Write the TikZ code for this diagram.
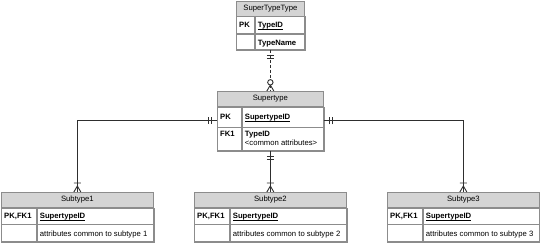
\documentclass[tikz,border=0pt]{standalone}
\usepackage{fontspec}
\setmainfont{Liberation Sans}
\newsavebox{\keybox}
\newcommand{\keyul}[1]{\sbox{\keybox}{#1}\rlap{\rule[-1.4pt]{\wd\keybox}{0.6pt}}\usebox{\keybox}}
\definecolor{hdrgray}{HTML}{D4D4D4}
\definecolor{boxgray}{HTML}{8C8C8C}
\definecolor{linkgray}{HTML}{2E2E2E}
\tikzset{
  cellbox/.style={draw=boxgray, line width=0.7pt, anchor=north west, inner sep=0pt},
  hdrbox/.style={cellbox, fill=hdrgray, font=\fontsize{7.7}{9}\selectfont},
  keytxt/.style={anchor=base west, inner sep=0pt, font=\bfseries\fontsize{7.7}{9}\selectfont},
  attrtxt/.style={anchor=base west, inner sep=0pt, font=\fontsize{7.7}{9}\selectfont},
  link/.style={draw=linkgray, line width=1pt},
  marker/.style={draw=linkgray, line width=0.9pt},
  onlyone/.pic={\draw[marker] (6,-3.5) -- (6,3.5) (9,-3.5) -- (9,3.5);},
  onemany/.pic={\draw[marker] (0,-3.5) -- (6,0) -- (0,3.5) (9,-3.5) -- (9,3.5);},
  zeromany/.pic={\draw[marker] (0,-3.5) -- (6,0) -- (0,3.5);
    \draw[marker, fill=white] (8.7,0) circle (2.7);}
}

\begin{document}
\begin{tikzpicture}[x=1pt, y=1pt]
  \useasboundingbox (0,0) rectangle (540,-242);

  % SuperTypeType
  \node[cellbox, minimum width=68, minimum height=48.5] (stt-box) at (236,-0.5) {};
  \node[hdrbox, minimum width=68, minimum height=15] (stt) at (stt-box.north west) {SuperTypeType};
  \node[cellbox, minimum width=18, minimum height=17] (stt-k1) at (stt.south west) {};
  \node[cellbox, minimum width=50, minimum height=17] (stt-a1) at (stt-k1.north east) {};
  \node[cellbox, minimum width=18, minimum height=16.5] (stt-k2) at (stt-k1.south west) {};
  \node[cellbox, minimum width=50, minimum height=16.5] (stt-a2) at (stt-k2.north east) {};
  \node[keytxt] at ([shift={(3,-2.8)}]stt-k1.west) {PK};
  \node[keytxt] at ([shift={(3,-2.8)}]stt-a1.west) {\keyul{TypeID}};
  \node[keytxt] at ([shift={(3,-2.8)}]stt-a2.west) {TypeName};

  % Supertype
  \node[cellbox, minimum width=106, minimum height=59] (sup-box) at (217,-91) {};
  \node[hdrbox, minimum width=106, minimum height=15] (sup) at (sup-box.north west) {Supertype};
  \node[cellbox, minimum width=24, minimum height=20] (sup-k1) at (sup.south west) {};
  \node[cellbox, minimum width=82, minimum height=20] (sup-a1) at (sup-k1.north east) {};
  \node[cellbox, minimum width=24, minimum height=24] (sup-k2) at (sup-k1.south west) {};
  \node[cellbox, minimum width=82, minimum height=24] (sup-a2) at (sup-k2.north east) {};
  \node[keytxt] at ([shift={(3,-2.8)}]sup-k1.west) {PK};
  \node[keytxt] at ([shift={(3,-2.8)}]sup-a1.west) {\keyul{SupertypeID}};
  \node[keytxt] at ([shift={(3,-8.8)}]sup-k2.north west) {FK1};
  \node[keytxt] at ([shift={(3,-8.8)}]sup-a2.north west) {TypeID};
  \node[attrtxt] at ([shift={(3,-17.8)}]sup-a2.north west) {<common attributes>};

  % Subtypes
  \foreach \n/\x in {1/1, 2/194, 3/387} {
    \node[cellbox, minimum width=152, minimum height=49] (sub\n-box) at (\x,-192) {};
    \node[hdrbox, minimum width=152, minimum height=15] (sub\n) at (sub\n-box.north west) {Subtype\n};
    \node[cellbox, minimum width=35, minimum height=16] (sub\n-k1) at (sub\n.south west) {};
    \node[cellbox, minimum width=117, minimum height=16] (sub\n-a1) at (sub\n-k1.north east) {};
    \node[cellbox, minimum width=35, minimum height=18] (sub\n-k2) at (sub\n-k1.south west) {};
    \node[cellbox, minimum width=117, minimum height=18] (sub\n-a2) at (sub\n-k2.north east) {};
    \node[keytxt] at ([shift={(3,-2.8)}]sub\n-k1.west) {PK,FK1};
    \node[keytxt] at ([shift={(3,-2.8)}]sub\n-a1.west) {\keyul{SupertypeID}};
    \node[attrtxt] at ([shift={(3,-2.8)}]sub\n-a2.west) {attributes common to subtype \n};
  }

  % relationships
  \draw[link, dash pattern=on 3pt off 2pt] (stt-box.south) -- (sup-box.north);
  \draw[link] (sup-box.west) -| (sub1-box.north);
  \draw[link] (sup-box.east) -| (sub3-box.north);
  \draw[link] (sup-box.south) -- (sub2-box.north);

  \pic[rotate=-90] at (stt-box.south) {onlyone};
  \pic[rotate=90] at (sup-box.north) {zeromany};
  \pic[rotate=180] at (sup-box.west) {onlyone};
  \pic at (sup-box.east) {onlyone};
  \pic[rotate=-90] at (sup-box.south) {onlyone};
  \foreach \n in {1,2,3}
    \pic[rotate=90] at (sub\n-box.north) {onemany};
\end{tikzpicture}
\end{document}
